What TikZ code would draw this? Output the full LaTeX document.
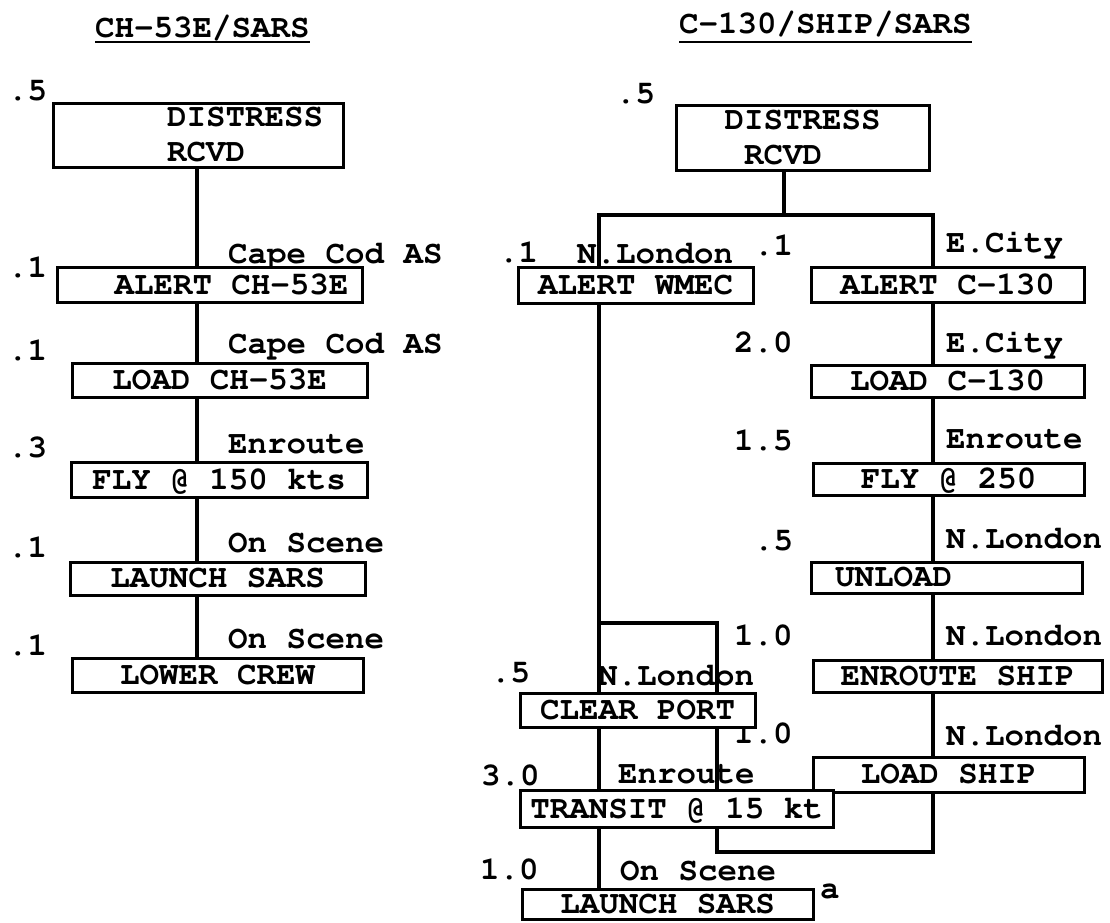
\documentclass[tikz,border=0pt]{standalone}
\usepackage[T1]{fontenc}
\usepackage{tikz}
\newcommand{\typer}{\fontfamily{pcr}\fontseries{b}\fontsize{32.5}{35}\selectfont}

\begin{document}
\begin{tikzpicture}[x=1pt, y=-1pt,
  box/.style={draw, line width=3pt, fill=white, inner sep=0pt, font=\typer},
  lbl/.style={anchor=base west, inner sep=0pt, font=\typer},
  link/.style={line width=3.2pt}]
  \useasboundingbox (0,0) rectangle (1110,922);

  % Titles
  \node[lbl] (tl) at (95,37) {CH-53E/SARS};
  \node[lbl] (tr) at (679,33) {C-130/SHIP/SARS};
  \draw[line width=1.8pt] ([yshift=-5pt]tl.base west) -- ([yshift=-5pt]tl.base east);
  \draw[line width=1.8pt] ([yshift=-9pt]tr.base west) -- ([yshift=-9pt]tr.base east);

  % Line positions
  \coordinate (lx) at (197,0);
  \coordinate (wx) at (599,0);
  \coordinate (px) at (717,0);
  \coordinate (rx) at (933,0);
  \coordinate (fork) at (784,215);
  \coordinate (split) at (599,623);
  \coordinate (turn) at (717,852);

  % Times and places, CH-53E
  \node[lbl] (n1) at (8,100) {.5};
  \node[lbl] (n2) at (8,277) {.1};
  \node[lbl] (n3) at (8,360) {.1};
  \node[lbl] (n4) at (8,457) {.3};
  \node[lbl] (n5) at (8,557) {.1};
  \node[lbl] (n6) at (8,655) {.1};
  \node[lbl] (p2) at (228,263) {Cape Cod AS};
  \node[lbl] (p3) at (228,353) {Cape Cod AS};
  \node[lbl] (p4) at (228,453) {Enroute};
  \node[lbl] (p5) at (228,552) {On Scene};
  \node[lbl] (p6) at (228,648) {On Scene};

  % Times and places, C-130/SHIP
  \node[lbl] (m1) at (616,103) {.5};
  \node[lbl] (m2) at (499,262) {.1};
  \node[lbl] (q2) at (577,263) {N.London};
  \node[lbl] (m3) at (754,255) {.1};
  \node[lbl] (q3) at (946,252) {E.City};
  \node[lbl] (m4) at (734,352) {2.0};
  \node[lbl] (q4) at (946,352) {E.City};
  \node[lbl] (m5) at (734,450) {1.5};
  \node[lbl] (q5) at (946,448) {Enroute};
  \node[lbl] (m6) at (754,550) {.5};
  \node[lbl] (q6) at (946,548) {N.London};
  \node[lbl] (m7) at (734,645) {1.0};
  \node[lbl] (q7) at (946,645) {N.London};
  \node[lbl] (m8) at (491,682) {.5};
  \node[lbl] (q8) at (598,685) {N.London};
  \node[lbl] (m9) at (734,743) {1.0};
  \node[lbl] (q9) at (946,745) {N.London};
  \node[lbl] (m10) at (481,785) {3.0};
  \node[lbl] (q10) at (618,783) {Enroute};
  \node[lbl] (m11) at (480,879) {1.0};
  \node[lbl] (q11) at (620,880) {On Scene};
  \node[lbl] (note) at (820,898) {a};

  % Boxes, CH-53E
  \node[box, minimum width=290, minimum height=64, align=left] (dr1) at (198,135)
    {\hspace*{94pt}DISTRESS\\\hspace*{94pt}RCVD};
  \node[box, minimum width=305, minimum height=35] (al1) at (209.5,284.5) {\hspace*{44pt}ALERT CH-53E};
  \node[box, minimum width=295, minimum height=34] (ld1) at (219.5,380) {LOAD CH-53E};
  \node[box, minimum width=296, minimum height=35] (fl1) at (219,479.5) {FLY @ 150 kts};
  \node[box, minimum width=295, minimum height=33] (ln1) at (217.5,578.5) {LAUNCH SARS};
  \node[box, minimum width=291, minimum height=34] (lw1) at (217.5,675) {LOWER CREW};

  % Connectors, CH-53E
  \draw[link] (dr1.south -| lx) -- (al1.north -| lx);
  \draw[link] (al1.south -| lx) -- (ld1.north -| lx);
  \draw[link] (ld1.south -| lx) -- (fl1.north -| lx);
  \draw[link] (fl1.south -| lx) -- (ln1.north -| lx);
  \draw[link] (ln1.south -| lx) -- (lw1.north -| lx);

  % Boxes, C-130/SHIP
  \node[box, minimum width=253, minimum height=65, align=left] (dr2) at (802.5,137.5)
    {DISTRESS\\\hspace*{0.6em}RCVD};
  \node[box, minimum width=235, minimum height=36] (wmec) at (635.5,285) {ALERT WMEC};
  \node[box, minimum width=273, minimum height=35] (ac130) at (947.5,284.5) {ALERT C-130};
  \node[box, minimum width=273, minimum height=32] (lc130) at (947.5,381) {LOAD C-130};
  \node[box, minimum width=271, minimum height=32] (fly2) at (948.5,479) {FLY @ 250};
  \node[box, minimum width=271, minimum height=31] (unld) at (946.5,577.5) {UNLOAD\hspace*{106pt}};
  \node[box, minimum width=289, minimum height=32] (ensh) at (957.5,676) {ENROUTE SHIP};
  \node[box, minimum width=271, minimum height=35] (ldsh) at (948.5,774.5) {LOAD SHIP};
  \node[box, minimum width=235, minimum height=34] (clp) at (637.5,710) {CLEAR PORT};
  \node[box, minimum width=313, minimum height=37] (trn) at (676.5,808.5) {TRANSIT @ 15 kt};
  \node[box, minimum width=291, minimum height=30] (ln2) at (667.5,904) {LAUNCH SARS};

  % Connectors, C-130/SHIP
  \draw[link] (dr2.south -| fork) -- (fork);
  \draw[link] (wmec.north -| wx) |- (fork) -| (ac130.north -| rx);
  \draw[link] (wmec.south -| wx) -- (clp.north -| wx);
  \draw[link] (clp.south -| wx) -- (trn.north -| wx);
  \draw[link] (trn.south -| wx) -- (ln2.north -| wx);
  \draw[link] (split) -| (clp.north -| px);
  \draw[link] (clp.south -| px) -- (trn.north -| px);
  \draw[link] (trn.south -| px) -- (turn) -| (ldsh.south -| rx);
  \draw[link] (ac130.south -| rx) -- (lc130.north -| rx);
  \draw[link] (lc130.south -| rx) -- (fly2.north -| rx);
  \draw[link] (fly2.south -| rx) -- (unld.north -| rx);
  \draw[link] (unld.south -| rx) -- (ensh.north -| rx);
  \draw[link] (ensh.south -| rx) -- (ldsh.north -| rx);
\end{tikzpicture}
\end{document}
